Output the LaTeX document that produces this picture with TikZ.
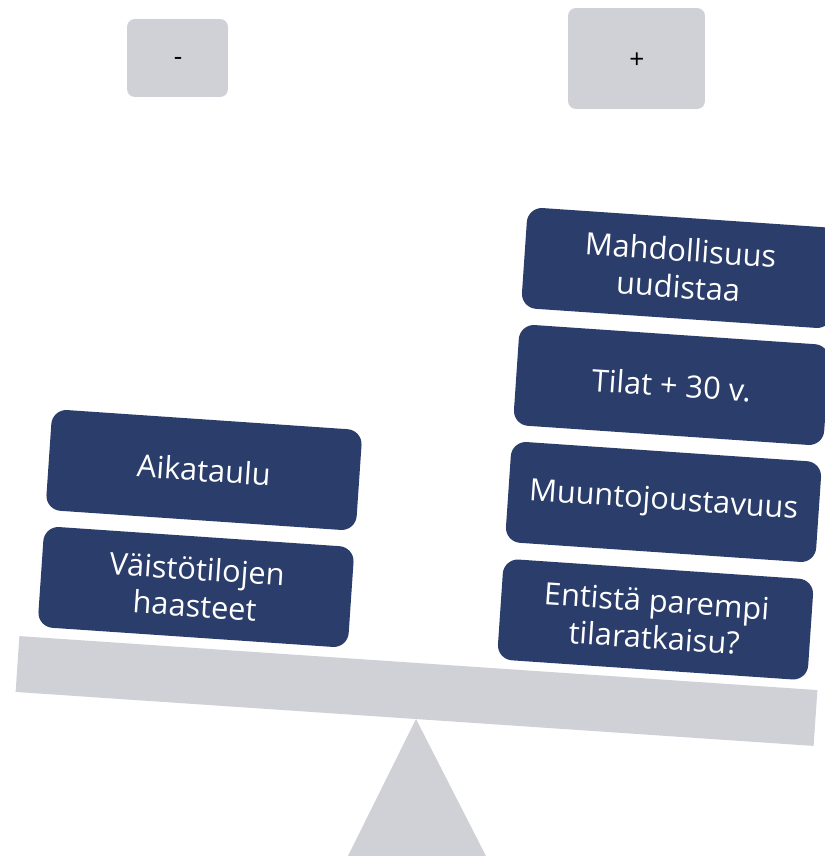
\documentclass[tikz,border=0pt]{standalone}
\usepackage{fontspec}
\setmainfont{Open Sans}
\definecolor{navy}{HTML}{2B3D6A}
\definecolor{lgrey}{HTML}{D0D1D6}
\begin{document}
\begin{tikzpicture}[x=0.02cm,y=-0.02cm,
  item/.style={fill=navy,text=white,rounded corners=0.3cm,minimum width=6.22cm,minimum height=2.02cm,
    rotate=-3.9,align=center,inner sep=0pt,font=\fontsize{17.5}{21}\selectfont},
  sign/.style={fill=lgrey,rounded corners=0.16cm,inner sep=0pt},
  signtext/.style={inner sep=0pt,font=\fontsize{15}{17}\selectfont}]
\clip (0,0) rectangle (825,856);
\fill[white] (0,0) rectangle (825,856);
% signs
\node[sign,minimum width=2.02cm,minimum height=1.56cm] (minus) at (177.5,58) {};
\node[signtext] (minustext) at (178,61) {-};
\node[sign,minimum width=2.74cm,minimum height=2.02cm] (plus) at (636.5,58.5) {};
\node[signtext] (plustext) at (637,61) {+};
% fulcrum
\coordinate (apex) at (416,719);
\fill[lgrey] (apex) -- (346,860) -- (488,860) -- cycle;
% beam
\node[fill=lgrey,minimum width=16cm,minimum height=1.12cm,rotate=-3.87,inner sep=0pt] (beam) at (416.5,691) {};
% left items
\node[item] (l1) at (196,587) {Väistötilojen\\haasteet};
\node[item] (l2) at (204,470) {Aikataulu};
% right items
\node[item] (r1) at (655.5,619.5) {Entistä parempi\\tilaratkaisu?};
\node[item] (r2) at (663.5,502) {Muuntojoustavuus};
\node[item] (r3) at (671.5,385) {Tilat + 30 v.};
\node[item] (r4) at (679.5,268) {Mahdollisuus\\uudistaa};
\end{tikzpicture}
\end{document}
